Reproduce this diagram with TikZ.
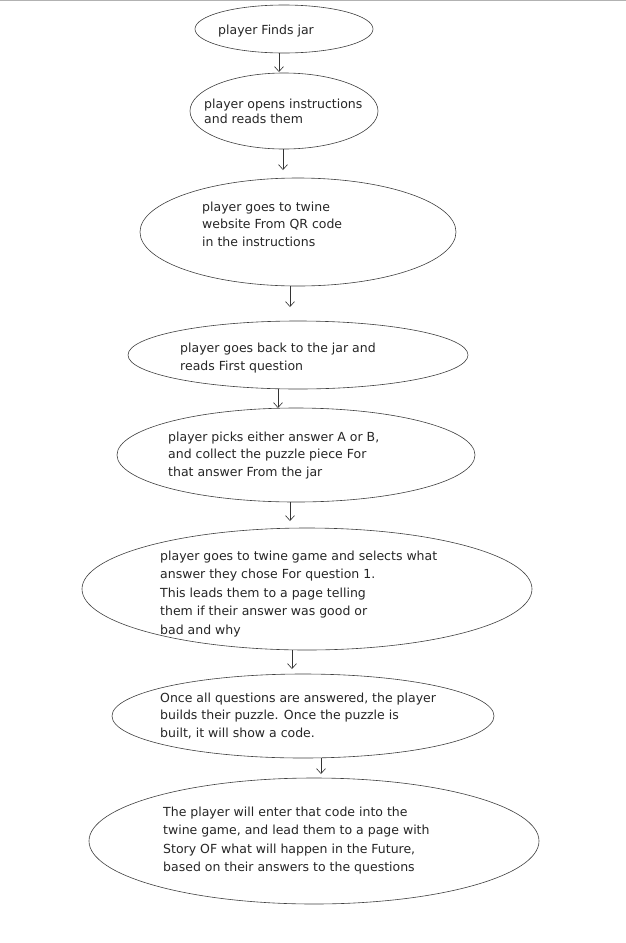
\documentclass[tikz,border=0pt]{standalone}
\usepackage{fontspec}
\setmainfont{DejaVu Sans}
\usetikzlibrary{shapes.geometric,arrows.meta}
\newcommand{\lines}[1]{\begin{tabular}[t]{@{}l@{}}#1\end{tabular}}
\begin{document}
\begin{tikzpicture}[x=1pt,y=-1pt,
  bubble/.style={draw=black!75, line width=0.6pt, ellipse, inner sep=0pt},
  txt/.style={anchor=base west, inner sep=0pt, text=black!85},
  arr/.style={draw=black!80, line width=0.6pt, -{Straight Barb[length=5pt,width=9pt]}}]
\useasboundingbox (0,0) rectangle (626,943);
\fill[white] (0,0) rectangle (626,943);
\draw[gray!60, line width=1pt] (0,0.5) -- (626,0.5);
% ellipses
\node[bubble, minimum width=178pt, minimum height=48pt]  (e1) at (284,29)  {};
\node[bubble, minimum width=188pt, minimum height=76pt]  (e2) at (284,111) {};
\node[bubble, minimum width=316pt, minimum height=108pt] (e3) at (298,232) {};
\node[bubble, minimum width=340pt, minimum height=68pt]  (e4) at (298,355) {};
\node[bubble, minimum width=358pt, minimum height=94pt]  (e5) at (296,455) {};
\node[bubble, minimum width=450pt, minimum height=122pt] (e6) at (307,589) {};
\node[bubble, minimum width=382pt, minimum height=84pt]  (e7) at (303,716) {};
\node[bubble, minimum width=450pt, minimum height=126pt] (e8) at (314,841) {};
% texts
\node[txt, font=\fontsize{12.5}{15}\selectfont] (t1) at (218,34) {\lines{player Finds jar}};
\node[txt, font=\fontsize{12.5}{15}\selectfont] (t2) at (204,108) {\lines{player opens instructions\\and reads them}};
\node[txt, font=\fontsize{12.5}{17.5}\selectfont] (t3) at (202,211) {\lines{player goes to twine\\website From QR code\\in the instructions}};
\node[txt, font=\fontsize{12.5}{18}\selectfont] (t4) at (180,352) {\lines{player goes back to the jar and\\reads First question}};
\node[txt, font=\fontsize{12.5}{17.5}\selectfont] (t5) at (168,441) {\lines{player picks either answer A or B,\\and collect the puzzle piece For\\that answer From the jar}};
\node[txt, font=\fontsize{12.5}{18.5}\selectfont] (t6) at (160,560) {\lines{player goes to twine game and selects what\\answer they chose For question 1.\\This leads them to a page telling\\them if their answer was good or\\bad and why}};
\node[txt, font=\fontsize{12.5}{17.5}\selectfont] (t7) at (160,702) {\lines{Once all questions are answered, the player\\builds their puzzle. Once the puzzle is\\built, it will show a code.}};
\node[txt, font=\fontsize{12.5}{18.5}\selectfont] (t8) at (163,816) {\lines{The player will enter that code into the\\twine game, and lead them to a page with\\Story OF what will happen in the Future,\\based on their answers to the questions}};
% arrow tips
\coordinate (a1) at (279,72);
\coordinate (a2) at (283,170);
\coordinate (a3) at (290,307);
\coordinate (a4) at (278,408);
\coordinate (a5) at (290,521);
\coordinate (a6) at (292,669);
\coordinate (a7) at (321,774);
\draw[arr] (e1.south -| a1) -- (a1);
\draw[arr] (e2.south -| a2) -- (a2);
\draw[arr] (e3.south -| a3) -- (a3);
\draw[arr] (e4.south -| a4) -- (a4);
\draw[arr] (e5.south -| a5) -- (a5);
\draw[arr] (e6.south -| a6) -- (a6);
\draw[arr] (e7.south -| a7) -- (a7);
\end{tikzpicture}
\end{document}
